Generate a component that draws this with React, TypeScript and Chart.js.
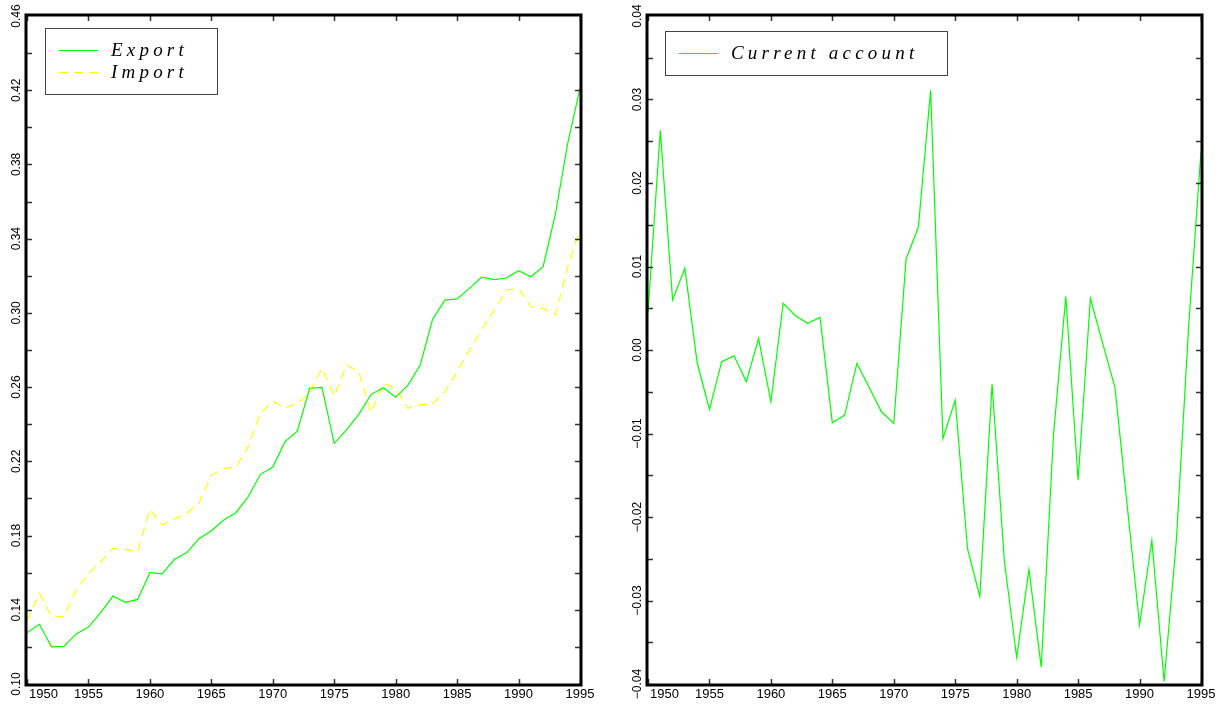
import { useEffect, useRef } from "react";
import { Chart, registerables } from "chart.js";

Chart.register(...registerables);

const years = [
  1950, 1951, 1952, 1953, 1954, 1955, 1956, 1957, 1958, 1959,
  1960, 1961, 1962, 1963, 1964, 1965, 1966, 1967, 1968, 1969,
  1970, 1971, 1972, 1973, 1974, 1975, 1976, 1977, 1978, 1979,
  1980, 1981, 1982, 1983, 1984, 1985, 1986, 1987, 1988, 1989,
  1990, 1991, 1992, 1993, 1994, 1995,
];

const exportShare = [
  0.1276, 0.1322, 0.12, 0.1203, 0.127, 0.1307, 0.1386, 0.1474, 0.144, 0.1456,
  0.16, 0.1594, 0.1672, 0.1708, 0.1783, 0.1826, 0.1884, 0.1923, 0.2009, 0.213,
  0.2169, 0.2306, 0.2363, 0.2594, 0.2598, 0.2297, 0.2369, 0.2453, 0.2561, 0.2597,
  0.2545, 0.2611, 0.2719, 0.2965, 0.3069, 0.3075, 0.3132, 0.3192, 0.3179, 0.3188,
  0.3227, 0.3195, 0.3249, 0.3533, 0.3914, 0.421,
];

const importShare = [
  0.134, 0.1489, 0.1365, 0.1362, 0.1507, 0.1596, 0.1659, 0.1731, 0.1726, 0.1713,
  0.1941, 0.1857, 0.1889, 0.192, 0.1974, 0.2126, 0.2162, 0.2168, 0.2279, 0.2459,
  0.2525, 0.2486, 0.2513, 0.2567, 0.2701, 0.2552, 0.2719, 0.2683, 0.2462, 0.262,
  0.2594, 0.2486, 0.2504, 0.2509, 0.2575, 0.2683, 0.28, 0.2908, 0.3012, 0.3123,
  0.3132, 0.3033, 0.3025, 0.2989, 0.3249, 0.3447,
];

const currentAccount = [
  0.0045, 0.0263, 0.006, 0.0098, -0.0015, -0.0071, -0.0014, -0.0007, -0.0038, 0.0014,
  -0.0062, 0.0056, 0.0041, 0.0032, 0.0039, -0.0087, -0.0078, -0.0016, -0.0045, -0.0074,
  -0.0088, 0.0109, 0.0147, 0.0311, -0.0106, -0.006, -0.0238, -0.0295, -0.0041, -0.0253,
  -0.0368, -0.0263, -0.038, -0.0101, 0.0064, -0.0156, 0.0062, 0.0008, -0.0045, -0.0187,
  -0.0329, -0.0228, -0.0397, -0.0227, 0.003, 0.0238,
];

const xTickValues = [1950, 1955, 1960, 1965, 1970, 1975, 1980, 1985, 1990, 1995];
const xTickLabels = ["1950", "1955", "1960", "1965", "1970", "1975", "1980", "1985", "1990", "1995"];

const leftYTickValues = [0.1, 0.14, 0.18, 0.22, 0.26, 0.3, 0.34, 0.38, 0.42, 0.46];
const leftYTickLabels = ["0.10", "0.14", "0.18", "0.22", "0.26", "0.30", "0.34", "0.38", "0.42", "0.46"];
const leftYTickMarks = [
  0.12, 0.14, 0.16, 0.18, 0.2, 0.22, 0.24, 0.26, 0.28, 0.3, 0.32, 0.34, 0.36, 0.38, 0.4, 0.42, 0.44,
];

const rightYTickValues = [-0.04, -0.03, -0.02, -0.01, 0, 0.01, 0.02, 0.03, 0.04];
const rightYTickLabels = ["\u22120.04", "\u22120.03", "\u22120.02", "\u22120.01", "0.00", "0.01", "0.02", "0.03", "0.04"];
const rightYTickMarks = [
  -0.035, -0.03, -0.025, -0.02, -0.015, -0.01, -0.005, 0, 0.005, 0.01, 0.015, 0.02, 0.025, 0.03, 0.035,
];

const GREEN = "#00ff00";
const YELLOW = "#ffff00";

const framePlugin = {
  id: "frame",
  afterDraw(chart: any, _args: any, opts: any) {
    const { ctx, chartArea: a } = chart;
    const x = chart.scales.x;
    const y = chart.scales.y;
    ctx.save();

    // inward tick marks
    ctx.strokeStyle = "#333";
    ctx.lineWidth = 1.5;
    ctx.beginPath();
    for (const v of opts.xMarks) {
      const px = Math.round(x.getPixelForValue(v)) + 0.5;
      ctx.moveTo(px, a.bottom);
      ctx.lineTo(px, a.bottom - 5);
      ctx.moveTo(px, a.top);
      ctx.lineTo(px, a.top + 5);
    }
    for (const v of opts.yMarks) {
      const py = Math.round(y.getPixelForValue(v)) + 0.5;
      ctx.moveTo(a.left, py);
      ctx.lineTo(a.left + 5, py);
      ctx.moveTo(a.right, py);
      ctx.lineTo(a.right - 5, py);
    }
    ctx.stroke();

    // frame
    ctx.strokeStyle = "#000";
    ctx.lineWidth = 3;
    ctx.strokeRect(a.left - 1, a.top - 1, a.right - a.left + 2, a.bottom - a.top + 2);

    // x labels
    ctx.fillStyle = "#000";
    ctx.font = '13px "Liberation Sans", Arial, sans-serif';
    ctx.textBaseline = "alphabetic";
    opts.xValues.forEach((v: number, i: number) => {
      const px = x.getPixelForValue(v);
      if (i === 0) {
        ctx.textAlign = "left";
        ctx.fillText(opts.xLabels[i], px + 2, a.bottom + 14);
      } else {
        ctx.textAlign = "center";
        ctx.fillText(opts.xLabels[i], px, a.bottom + 14);
      }
    });

    // y labels (rotated)
    ctx.font = '12px "Liberation Sans", Arial, sans-serif';
    opts.yValues.forEach((v: number, i: number) => {
      const py = y.getPixelForValue(v);
      ctx.save();
      ctx.translate(a.left - 10, py);
      ctx.rotate(-Math.PI / 2);
      ctx.textAlign = "center";
      ctx.textBaseline = "middle";
      ctx.fillText(opts.yLabels[i], 0, 0);
      ctx.restore();
    });

    // legend
    const L = opts.legend;
    const ds = chart.data.datasets;
    const bx = a.left + L.dx;
    const by = a.top + L.dy;
    const bh = L.row * (ds.length + 1);
    ctx.fillStyle = "#fff";
    ctx.fillRect(bx, by, L.width, bh);
    ctx.strokeStyle = "#444";
    ctx.lineWidth = 1;
    ctx.strokeRect(bx + 0.5, by + 0.5, L.width, bh);
    ds.forEach((d: any, i: number) => {
      const ry = Math.round(by + L.row * (i + 1)) + 0.5;
      ctx.strokeStyle = d.borderColor;
      ctx.lineWidth = 1.2;
      ctx.setLineDash(d.borderDash || []);
      ctx.beginPath();
      ctx.moveTo(bx + 14, ry);
      ctx.lineTo(bx + 53, ry);
      ctx.stroke();
      ctx.setLineDash([]);
      ctx.fillStyle = "#000";
      ctx.font = 'italic 19px "Liberation Serif", "Times New Roman", serif';
      (ctx as any).letterSpacing = "4.2px";
      ctx.textAlign = "left";
      ctx.textBaseline = "middle";
      ctx.fillText(d.label, bx + 66, ry);
      (ctx as any).letterSpacing = "0px";
    });

    ctx.restore();
  },
};

function makeConfig(datasets: any[], yMin: number, yMax: number, padding: any, frame: any) {
  return {
    type: "line",
    data: { datasets },
    options: {
      animation: false,
      responsive: false,
      layout: { padding },
      scales: {
        x: { type: "linear", min: 1950, max: 1995, display: false },
        y: { type: "linear", min: yMin, max: yMax, display: false },
      },
      elements: { point: { radius: 0 }, line: { tension: 0 } },
      plugins: { legend: { display: false }, tooltip: { enabled: false }, frame },
    },
    plugins: [framePlugin],
  } as any;
}

export default function App() {
  const leftRef = useRef<HTMLCanvasElement>(null);
  const rightRef = useRef<HTMLCanvasElement>(null);

  useEffect(() => {
    document.body.style.margin = "0";
    const toPts = (vals: number[]) => years.map((yr, i) => ({ x: yr, y: vals[i] }));

    const left = new Chart(
      leftRef.current!,
      makeConfig(
        [
          { label: "Export", data: toPts(exportShare), borderColor: GREEN, borderWidth: 1.2, fill: false },
          { label: "Import", data: toPts(importShare), borderColor: YELLOW, borderWidth: 1.2, borderDash: [9, 6], fill: false },
        ],
        0.1,
        0.46,
        { left: 27, right: 36, top: 16, bottom: 23 },
        {
          xValues: xTickValues,
          xLabels: xTickLabels,
          xMarks: xTickValues,
          yValues: leftYTickValues,
          yLabels: leftYTickLabels,
          yMarks: leftYTickMarks,
          legend: { dx: 18, dy: 12, width: 172, row: 22 },
        }
      )
    );

    const right = new Chart(
      rightRef.current!,
      makeConfig(
        [{ label: "Current account", data: toPts(currentAccount), borderColor: GREEN, borderWidth: 1.2, fill: false }],
        -0.04,
        0.04,
        { left: 32, right: 31, top: 16, bottom: 23 },
        {
          xValues: xTickValues,
          xLabels: xTickLabels,
          xMarks: xTickValues,
          yValues: rightYTickValues,
          yLabels: rightYTickLabels,
          yMarks: rightYTickMarks,
          legend: { dx: 17, dy: 15, width: 282, row: 22 },
        }
      )
    );

    return () => {
      left.destroy();
      right.destroy();
    };
  }, []);

  return (
    <div style={{ position: "relative", width: 1232, height: 707, background: "#fff" }}>
      <canvas ref={leftRef} width={616} height={707} style={{ position: "absolute", left: 0, top: 0, display: "block" }} />
      <canvas ref={rightRef} width={616} height={707} style={{ position: "absolute", left: 616, top: 0, display: "block" }} />
    </div>
  );
}
